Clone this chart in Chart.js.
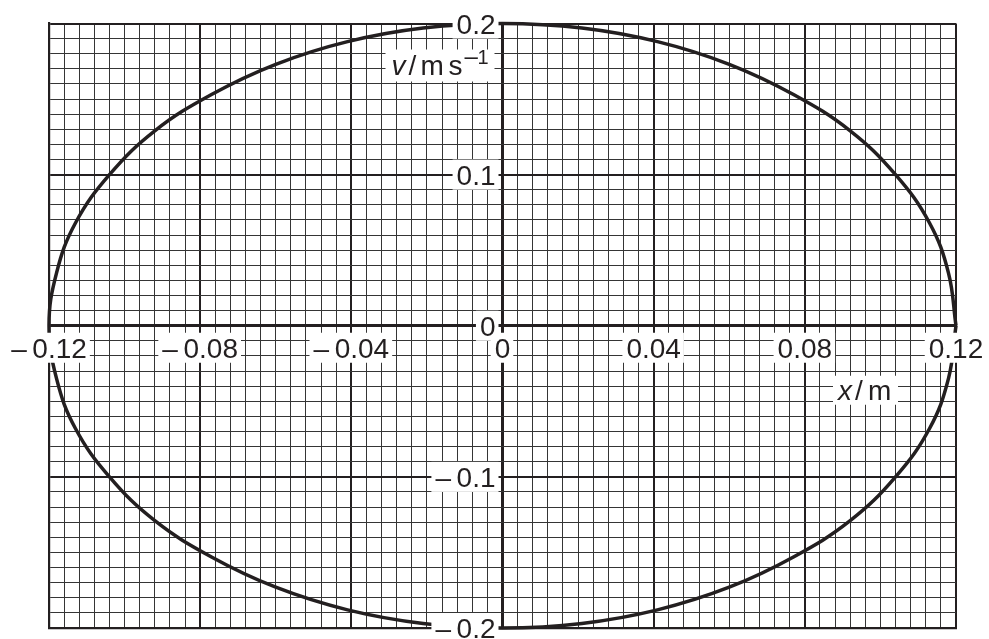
<!DOCTYPE html>
<html>
<head>
<meta charset="utf-8">
<script src="https://cdn.jsdelivr.net/npm/chart.js@4.4.1/dist/chart.umd.min.js"></script>
<style>
  html, body { margin: 0; padding: 0; background: #fff; }
  #wrap { width: 989px; height: 639px; }
</style>
</head>
<body>
<div id="wrap"><canvas id="chart" width="989" height="639"></canvas></div>
<script>
// curve, going round from (0.12, 0) anticlockwise
var curveX = [0.12, 0.118, 0.113, 0.104, 0.092, 0.077, 0.060, 0.041, 0.021, 0,
  -0.021, -0.041, -0.060, -0.077, -0.092, -0.104, -0.113, -0.118, -0.12,
  -0.118, -0.113, -0.104, -0.092, -0.077, -0.060, -0.041, -0.021, 0,
  0.021, 0.041, 0.060, 0.077, 0.092, 0.104, 0.113, 0.118, 0.12];
var curveV = [0, 0.035, 0.068, 0.100, 0.129, 0.153, 0.173, 0.188, 0.197, 0.2,
  0.197, 0.188, 0.173, 0.153, 0.129, 0.100, 0.068, 0.035, 0,
  -0.035, -0.068, -0.100, -0.129, -0.153, -0.173, -0.188, -0.197, -0.2,
  -0.197, -0.188, -0.173, -0.153, -0.129, -0.100, -0.068, -0.035, 0];

var xTickValues = [-0.12, -0.08, -0.04, 0, 0.04, 0.08, 0.12];
var xTickLabels = ['\u2013\u20090.12', '\u2013\u20090.08', '\u2013\u20090.04', '0', '0.04', '0.08', '0.12'];
var yTickValues = [0.2, 0.1, 0, -0.1, -0.2];
var yTickLabels = ['0.2', '0.1', '0', '\u2013\u20090.1', '\u2013\u20090.2'];

var ink = '#231f20';
var font = '"Liberation Sans", Arial, sans-serif';

var points = [];
for (var i = 0; i < curveX.length; i++) {
  points.push({ x: curveX[i], y: curveV[i] });
}

function gridStyle(major) {
  return {
    drawTicks: false,
    color: function (c) {
      var v = c.tick.value;
      var r = v / major;
      if (Math.abs(v) < 1e-9 || Math.abs(r - Math.round(r)) < 1e-6) return ink;
      return '#353535';
    },
    lineWidth: function (c) {
      var v = c.tick.value;
      var r = v / major;
      if (Math.abs(v) < 1e-9) return 3;
      if (Math.abs(r - Math.round(r)) < 1e-6) return 2;
      return 1;
    }
  };
}

function boxText(ctx, text, x, cy, align) {
  ctx.font = '28px ' + font;
  var w = ctx.measureText(text).width;
  var left = align == 'right' ? x - w : x - w / 2;
  ctx.fillStyle = '#fff';
  ctx.fillRect(left - 4, cy - 15, w + 7, 30);
  ctx.fillStyle = ink;
  ctx.textAlign = 'left';
  ctx.textBaseline = 'alphabetic';
  ctx.fillText(text, left, cy + 10);
}

var labelPlugin = {
  id: 'labels',
  afterDatasetsDraw: function (chart) {
    var ctx = chart.ctx;
    var xs = chart.scales.x, ys = chart.scales.y;
    var x0 = xs.getPixelForValue(0), y0 = ys.getPixelForValue(0);
    ctx.save();
    for (var i = 0; i < xTickValues.length; i++) {
      boxText(ctx, xTickLabels[i], xs.getPixelForValue(xTickValues[i]), y0 + 22, 'center');
    }
    for (var j = 0; j < yTickValues.length; j++) {
      boxText(ctx, yTickLabels[j], x0 - 7, ys.getPixelForValue(yTickValues[j]), 'right');
    }

    // v / m s^-1
    var top = ys.getPixelForValue(0.2);
    var vl = x0 - 111, vb = top + 51.5;
    ctx.fillStyle = '#fff';
    ctx.fillRect(vl - 6, top + 26, x0 - 8 - (vl - 6), 32);
    ctx.fillStyle = ink;
    ctx.font = 'italic 28px ' + font;
    ctx.fillText('v', vl, vb);
    ctx.font = '28px ' + font;
    ctx.fillText('/', vl + 17, vb);
    ctx.fillText('m', vl + 29, vb);
    ctx.fillText('s', vl + 57, vb);
    ctx.font = '24px ' + font;
    ctx.fillText('\u2013', vl + 73, vb - 11);
    ctx.font = '20px ' + font;
    ctx.fillText('1', vl + 86, vb - 11);

    // x / m
    var xr = xs.getPixelForValue(0.12);
    var xl = xr - 118, xb = y0 + 74.5;
    ctx.fillStyle = '#fff';
    ctx.fillRect(xl - 5, y0 + 50, 65, 29);
    ctx.fillStyle = ink;
    ctx.font = 'italic 28px ' + font;
    ctx.fillText('x', xl, xb);
    ctx.font = '28px ' + font;
    ctx.fillText('/', xl + 17, xb);
    ctx.fillText('m', xl + 30, xb);
    ctx.restore();
  }
};

new Chart(document.getElementById('chart'), {
  type: 'scatter',
  data: {
    datasets: [{
      data: points,
      showLine: true,
      borderColor: ink,
      borderWidth: 3.5,
      pointRadius: 0,
      tension: 0.4,
      clip: false
    }]
  },
  options: {
    responsive: false,
    animation: false,
    layout: { padding: { left: 49, right: 33, top: 23.5, bottom: 11 } },
    plugins: { legend: { display: false }, tooltip: { enabled: false } },
    scales: {
      x: {
        type: 'linear',
        min: -0.12,
        max: 0.12,
        ticks: { display: false, stepSize: 0.004, maxTicksLimit: 200 },
        grid: gridStyle(0.04),
        border: { display: true, color: ink, width: 2.2 },
        afterFit: function (s) { s.height = 0; }
      },
      y: {
        type: 'linear',
        min: -0.2,
        max: 0.2,
        ticks: { display: false, stepSize: 0.01, maxTicksLimit: 200 },
        grid: gridStyle(0.1),
        border: { display: true, color: ink, width: 2.2 },
        afterFit: function (s) { s.width = 0; }
      }
    }
  },
  plugins: [labelPlugin]
});
</script>
</body>
</html>
